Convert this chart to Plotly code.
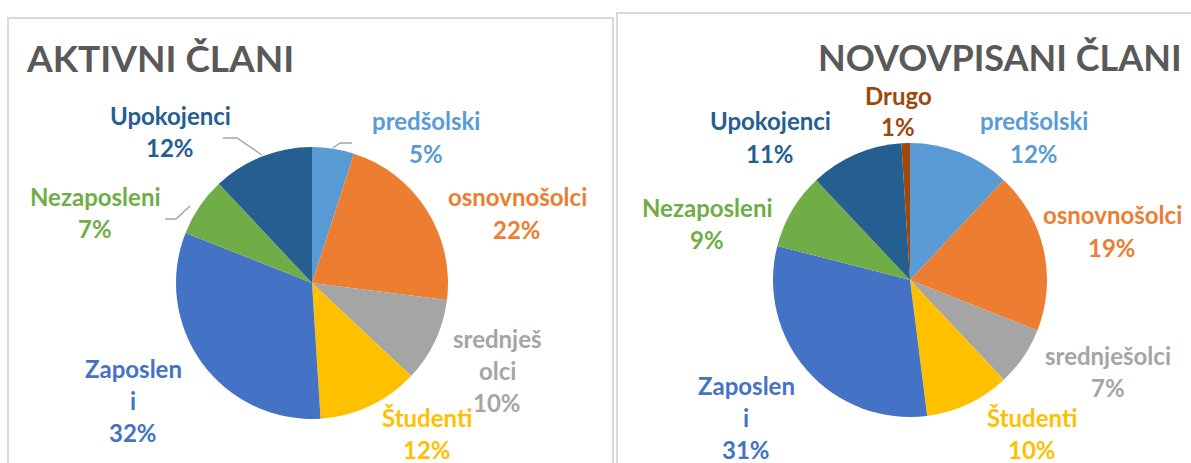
import plotly.graph_objects as go

W, H = 1191, 463

# ---- data ----
cats_left = ["predšolski", "osnovnošolci", "srednješolci", "Študenti", "Zaposleni", "Nezaposleni", "Upokojenci"]
vals_left = [5, 22, 10, 12, 32, 7, 12]
labels_left = ["predšolski", "osnovnošolci", "srednješ<br>olci", "Študenti", "Zaposlen<br>i", "Nezaposleni", "Upokojenci"]

cats_right = ["predšolski", "osnovnošolci", "srednješolci", "Študenti", "Zaposleni", "Nezaposleni", "Upokojenci", "Drugo"]
vals_right = [12, 19, 7, 10, 31, 9, 11, 1]
labels_right = ["predšolski", "osnovnošolci", "srednješolci", "Študenti", "Zaposlen<br>i", "Nezaposleni", "Upokojenci", "Drugo"]

titles = ["AKTIVNI ČLANI", "NOVOVPISANI ČLANI"]

# ---- style ----
colors = {
    "predšolski": "#5B9BD5", "osnovnošolci": "#ED7D31", "srednješolci": "#A5A5A5",
    "Študenti": "#FFC000", "Zaposleni": "#4472C4", "Nezaposleni": "#70AD47",
    "Upokojenci": "#255E91", "Drugo": "#9E480E",
}
FONT = "Lato"
LBL_SIZE = 24
LINE_H = 32

# label anchor (centre x, y of first line) in pixels
pos_left = [(426, 121), (517, 197), (497, 338), (427, 417), (133, 368), (95, 196), (170, 115)]
pos_right = [(1034, 121), (1112, 215), (1108, 355), (1032, 417), (746, 385), (707, 207), (770, 121), (898, 95)]

def px(x):
    return x / W

def py(y):
    return 1 - y / H

def pie_domain(cx, cy, r):
    return dict(x=[px(cx - r), px(cx + r)], y=[py(cy + r), py(cy - r)])

fig = go.Figure()
for cats, vals, (cx, cy, r) in [(cats_left, vals_left, (312, 283, 136)),
                                  (cats_right, vals_right, (910, 280, 137))]:
    fig.add_trace(go.Pie(
        labels=cats, values=vals, sort=False, direction="clockwise", rotation=0,
        marker=dict(colors=[colors[c] for c in cats], line=dict(width=0)),
        textinfo="none", hoverinfo="label+percent", showlegend=False,
        domain=pie_domain(cx, cy, r),
    ))

annotations = []
for cats, vals, labels, poss in [(cats_left, vals_left, labels_left, pos_left),
                                 (cats_right, vals_right, labels_right, pos_right)]:
    total = sum(vals)
    for c, v, lab, (x, y) in zip(cats, vals, labels, poss):
        lines = lab.split("<br>") + [f"{round(100 * v / total)}%"]
        for i, t in enumerate(lines):
            annotations.append(dict(
                x=px(x), y=py(y + i * LINE_H), xref="paper", yref="paper",
                text=f"<b>{t}</b>", showarrow=False, xanchor="center", yanchor="middle",
                font=dict(family=FONT, size=LBL_SIZE, color=colors[c]),
            ))

# titles
annotations.append(dict(x=px(24), y=py(58), xref="paper", yref="paper", text=f"<b>{titles[0]}</b>",
                        showarrow=False, xanchor="left", yanchor="middle",
                        font=dict(family=FONT, size=37, color="#595959")))
annotations.append(dict(x=px(1184), y=py(57), xref="paper", yref="paper", text=f"<b>{titles[1]}</b>",
                        showarrow=False, xanchor="right", yanchor="middle",
                        font=dict(family=FONT, size=36, color="#595959")))

shapes = []
border = dict(color="#D9D9D9", width=2)
# left panel box
shapes.append(dict(type="path", xref="paper", yref="paper",
                   path=f"M {px(8)} {py(470)} L {px(8)} {py(18)} L {px(613)} {py(18)} L {px(613)} {py(470)}",
                   line=border))
# right panel box
shapes.append(dict(type="path", xref="paper", yref="paper",
                   path=f"M {px(617)} {py(470)} L {px(617)} {py(13)} L {px(1200)} {py(13)}",
                   line=border))
# leader lines
lead = dict(color="#A6A6A6", width=1.5)
for pts in [[(223, 138), (237, 138), (262, 155)],
            [(165, 219), (176, 219), (190, 206)],
            [(352, 143), (340, 143), (333, 148)]]:
    path = "M " + " L ".join(f"{px(a)} {py(b)}" for a, b in pts)
    shapes.append(dict(type="path", xref="paper", yref="paper", path=path, line=lead))

fig.update_layout(
    width=W, height=H, margin=dict(l=0, r=0, t=0, b=0),
    paper_bgcolor="white", plot_bgcolor="white",
    annotations=annotations, shapes=shapes,
)
fig.write_html("out.html", config={"displayModeBar": False},
               post_script="document.body.style.margin='0';document.body.style.overflow='hidden';")
